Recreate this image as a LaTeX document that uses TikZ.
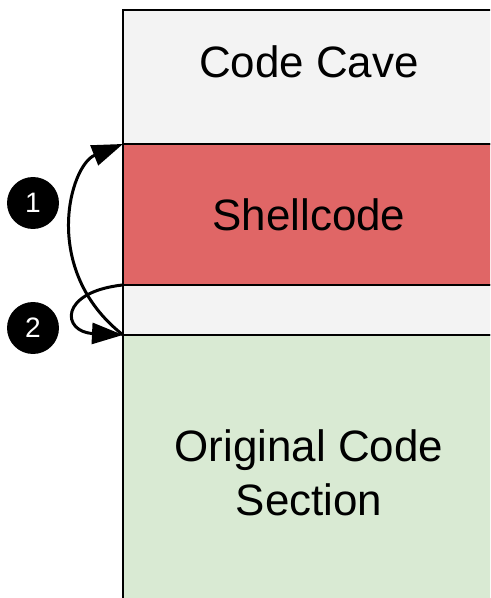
\documentclass[tikz,border=0pt]{standalone}
\usepackage{fontspec}
\setmainfont{Liberation Sans}
\usetikzlibrary{positioning,arrows.meta}
\definecolor{cavegray}{HTML}{F3F3F3}
\definecolor{shellred}{HTML}{E06666}
\definecolor{origgreen}{HTML}{D9EAD3}
\newcommand{\bigfont}[0]{\fontsize{25}{30.7}\selectfont}
\newcommand{\badge}[3]{\node[badge] (#1) at (#2) {#3}}
\newcommand{\jump}[4]{\draw[hop] (#1) .. controls (#2) and (#3) .. (#4)}
\tikzset{
  block/.style={draw=black, line width=0.03cm, outer sep=0pt, inner sep=0pt,
    minimum width=7.44cm, align=center, font=\bigfont},
  badge/.style={circle, fill=black, text=white, minimum size=1.04cm, inner sep=0pt,
    font=\fontsize{16}{18}\selectfont},
  hop/.style={line width=0.06cm, -{Triangle[length=0.62cm, width=0.42cm]}}
}

\begin{document}
\begin{tikzpicture}[x = 0.02cm, y = -0.02cm]
\useasboundingbox (0,0) rectangle (490,598);
\clip (0,0) rectangle (490,598);
%Memory blocks
	\node[block, fill=cavegray, minimum height=2.68cm, text depth=0.6cm, anchor=north west] (cave) at (123,10) {Code Cave};
	\node[block, fill=shellred, minimum height=2.82cm, below=0pt of cave] (shell) {Shellcode};
	\node[block, fill=cavegray, minimum height=1cm, below=0pt of shell] (gap) {};
	\node[block, fill=origgreen, minimum height=5.52cm, below=0pt of gap] (orig) {Original Code\\Section};
%Jumps
	\jump{orig.north west}{40,270}{70,165}{shell.north west};
	\jump{gap.north west}{58,292}{62,332}{orig.north west};
%Steps
	\badge{one}{33,203}{1};
	\badge{two}{33,328}{2};
\end{tikzpicture}
\end{document}
